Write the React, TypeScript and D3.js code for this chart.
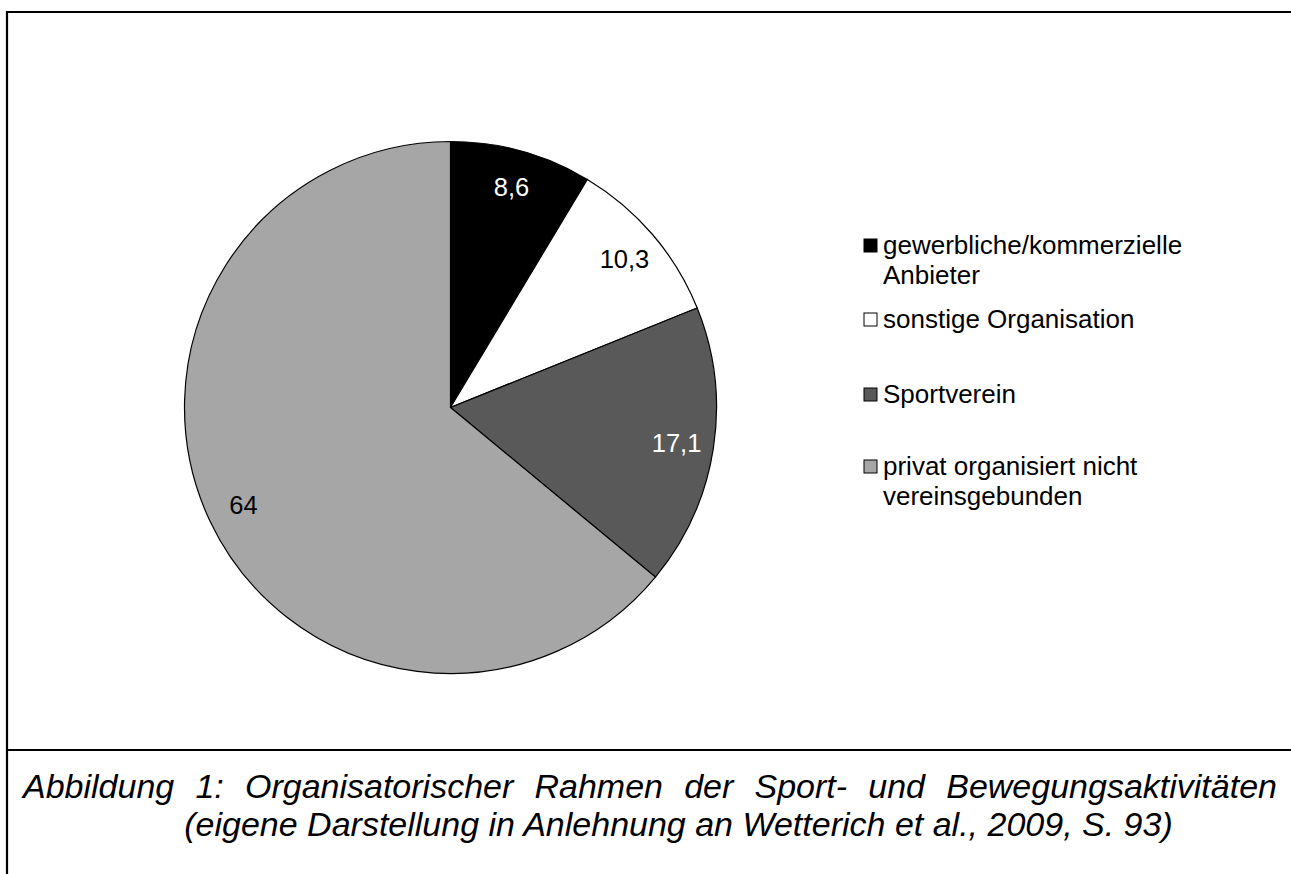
import React, { useMemo } from "react";
import * as d3 from "d3";

const categories = [
  "gewerbliche/kommerzielle Anbieter",
  "sonstige Organisation",
  "Sportverein",
  "privat organisiert nicht vereinsgebunden",
];
const values = [8.6, 10.3, 17.1, 64];
const valueLabels = ["8,6", "10,3", "17,1", "64"];
const legendLines = [
  ["gewerbliche/kommerzielle", "Anbieter"],
  ["sonstige Organisation"],
  ["Sportverein"],
  ["privat organisiert nicht", "vereinsgebunden"],
];
const fills = ["#000000", "#ffffff", "#595959", "#a6a6a6"];
const labelColors = ["#ffffff", "#000000", "#ffffff", "#000000"];
const captionLine1 = "Abbildung 1: Organisatorischer Rahmen der Sport- und Bewegungsaktivitäten";
const captionLine2 = "(eigene Darstellung in Anlehnung an Wetterich et al., 2009, S. 93)";

const W = 1291;
const H = 874;
const FONT = "'Liberation Sans', Arial, Helvetica, sans-serif";

export default function App() {
  const cx = 450.5;
  const cy = 407.5;
  const r = 266;

  const pie = d3.pie<number>().sort(null).value((d) => d)(values);
  const arc = d3.arc<d3.PieArcDatum<number>>().innerRadius(0).outerRadius(r);
  const labelArc = d3.arc<d3.PieArcDatum<number>>().innerRadius(r * 0.86).outerRadius(r * 0.86);

  const capSize = 34;
  const capLeft = 23;
  const capRight = 1277;

  const words = useMemo(() => {
    const ws = captionLine1.split(" ");
    let widths: number[] = ws.map((w) => w.length * capSize * 0.5);
    try {
      const c = document.createElement("canvas").getContext("2d");
      if (c) {
        c.font = `italic ${capSize}px 'Liberation Sans', Arial, sans-serif`;
        widths = ws.map((w) => c.measureText(w).width);
      }
    } catch (e) {}
    const total = widths.reduce((a, b) => a + b, 0);
    const gap = (capRight - capLeft - total) / (ws.length - 1);
    let x = capLeft;
    return ws.map((w, i) => {
      const o = { w, x };
      x += widths[i] + gap;
      return o;
    });
  }, []);

  const legendBaselines = [[254, 284], [328], [403], [475, 505]];

  return (
    <svg
      width={W}
      height={H}
      style={{ position: "absolute", left: 0, top: 0, display: "block", background: "#fff" }}
      fontFamily={FONT}
    >
      <rect x={0} y={0} width={W} height={H} fill="#fff" />
      {/* frame */}
      <line x1={7} y1={12} x2={W + 2} y2={12} stroke="#000" strokeWidth={2.2} />
      <line x1={7} y1={11} x2={7} y2={H + 2} stroke="#000" strokeWidth={2.2} />
      <line x1={7} y1={750} x2={W + 2} y2={750} stroke="#000" strokeWidth={2.2} />

      <g transform={`translate(${cx},${cy})`}>
        {pie.map((d, i) => (
          <path key={i} d={arc(d) || ""} fill={fills[i]} stroke="#000" strokeWidth={1.2} />
        ))}
        {pie.map((d, i) => {
          const [lx, ly] = labelArc.centroid(d);
          return (
            <text
              key={"l" + i}
              x={lx}
              y={ly}
              textAnchor="middle"
              dominantBaseline="central"
              fontSize={25.5}
              fill={labelColors[i]}
            >
              {valueLabels[i]}
            </text>
          );
        })}
      </g>

      <g>
        {categories.map((c, i) => {
          const bl = legendBaselines[i];
          return (
            <g key={c}>
              <rect
                x={864}
                y={bl[0] - 15}
                width={13}
                height={13}
                fill={fills[i]}
                stroke="#000"
                strokeWidth={1}
              />
              {legendLines[i].map((t, j) => (
                <text key={j} x={883} y={bl[j]} fontSize={26} fill="#000">
                  {t}
                </text>
              ))}
            </g>
          );
        })}
      </g>

      <g fontStyle="italic" fontSize={capSize} fill="#000">
        {words.map((o, i) => (
          <text key={i} x={o.x} y={798}>
            {o.w}
          </text>
        ))}
        <text x={678.5} y={836} textAnchor="middle">
          {captionLine2}
        </text>
      </g>
    </svg>
  );
}
